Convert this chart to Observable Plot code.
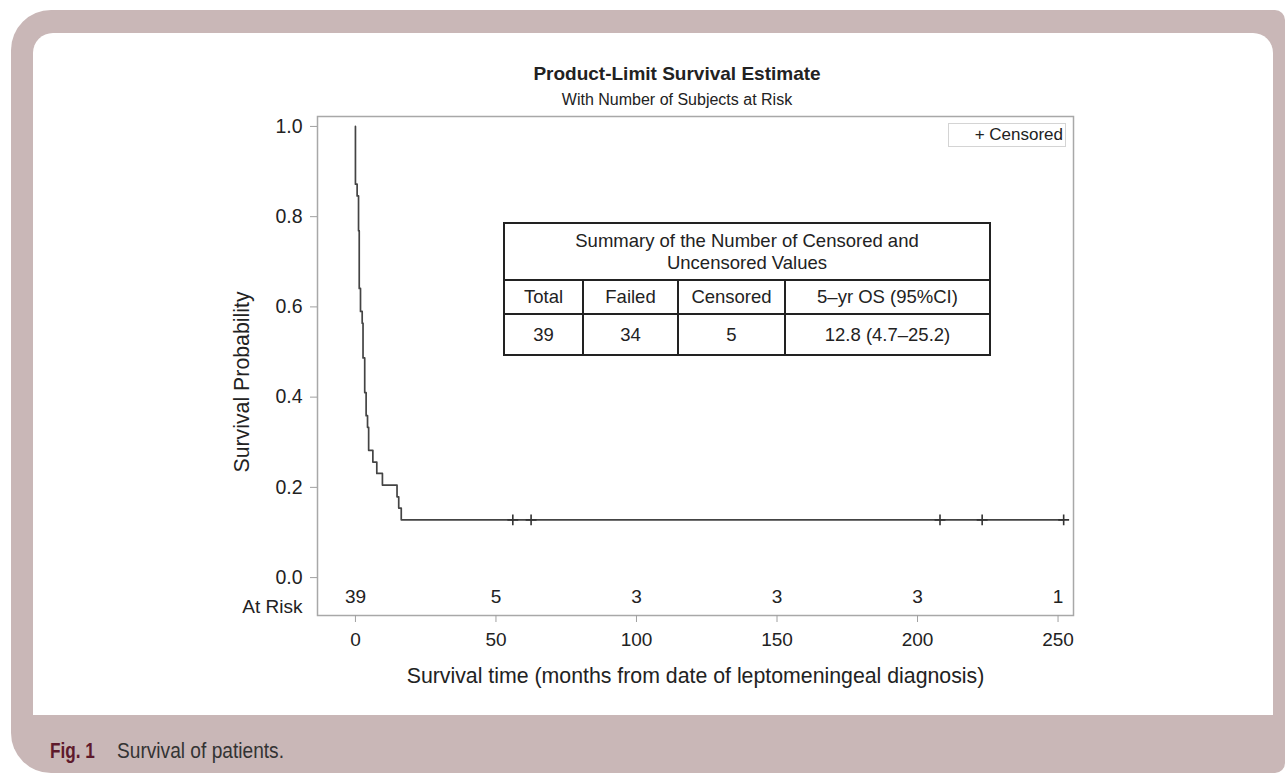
<!DOCTYPE html>
<html>
<head>
<meta charset="utf-8">
<script src="https://cdn.jsdelivr.net/npm/d3@7"></script>
<script src="https://cdn.jsdelivr.net/npm/@observablehq/plot@0.6"></script>
<style>
  html, body { margin: 0; padding: 0; }
  body { width: 1285px; height: 773px; overflow: hidden; position: relative; background: #fff;
         font-family: "Liberation Sans", Arial, Helvetica, sans-serif; color: #222; }
  #outer { position: absolute; left: 11px; top: 10px; width: 1274px; height: 763px;
           background: #c9b7b7; border-radius: 40px 10px 10px 40px; }
  #inner { position: absolute; left: 33px; top: 33px; width: 1240px; height: 682px;
           background: #fff; border-radius: 20px 20px 0 0; }
  #chart { position: absolute; left: 0; top: 0; }
  .title { position: absolute; left: 427px; width: 500px; text-align: center; line-height: 1; white-space: nowrap; }
  #t1 { top: 64px; font-size: 19px; font-weight: bold; }
  #t2 { top: 91.5px; font-size: 16px; }
  #legend { position: absolute; left: 948px; top: 123px; width: 114px; height: 22px;
            border: 1px solid #d4d4d4; font-size: 17px; line-height: 21px; text-align: right; padding-right: 2px; box-sizing: content-box; }
  #summary { position: absolute; left: 503px; top: 222px; width: 486px; height: 133px;
             border-collapse: collapse; table-layout: fixed; font-size: 18.5px; background: #fff; }
  #summary td, #summary th { border: 2px solid #222; text-align: center; font-weight: normal; padding: 0; line-height: 1.15; }
  .cap { position: absolute; top: 741px; font-family: "Liberation Sans", Arial, sans-serif;
         font-size: 21.5px; line-height: 1; white-space: nowrap; transform-origin: 0 0; }
  #capLabel { left: 50px; font-weight: bold; color: #5e1a2c; transform: scaleX(0.8); }
  #capText { left: 117px; color: #333; transform: scaleX(0.89); }
</style>
</head>
<body>
<div id="outer"></div>
<div id="inner"></div>
<div id="chart"></div>
<div class="title" id="t1"></div>
<div class="title" id="t2"></div>
<div id="legend"></div>
<table id="summary"></table>
<div class="cap" id="capLabel"></div>
<div class="cap" id="capText"></div>
<script>
// ---- data ----
const titleText = "Product-Limit Survival Estimate";
const subtitleText = "With Number of Subjects at Risk";
const xLabel = "Survival time (months from date of leptomeningeal diagnosis)";
const yLabel = "Survival Probability";
const xTicks = [0, 50, 100, 150, 200, 250];
const yTicks = [0.0, 0.2, 0.4, 0.6, 0.8, 1.0];

// Kaplan–Meier step curve (time in months, survival probability)
const stepTimes = [0, 0, 0.6, 1.1, 1.35, 1.8, 2.4, 2.7, 3.3, 3.8, 4.3, 4.7, 6.2, 7.6, 9.6, 14.8, 15.4, 16.3, 252];
const stepSurv  = [1.0, 0.872, 0.846, 0.769, 0.641, 0.590, 0.564, 0.487, 0.410, 0.359, 0.333, 0.282, 0.256, 0.231, 0.205, 0.179, 0.154, 0.128, 0.128];

// censored observations
const censorTimes = [56, 62.5, 208, 223, 252];
const censorSurv  = [0.128, 0.128, 0.128, 0.128, 0.128];

// number at risk
const riskTimes  = [0, 50, 100, 150, 200, 250];
const riskCounts = [39, 5, 3, 3, 3, 1];
const riskLabel = "At Risk";

// summary table
const tableTitle = ["Summary of the Number of Censored and", "Uncensored Values"];
const tableHeader = ["Total", "Failed", "Censored", "5\u2013yr OS (95%CI)"];
const tableValues = ["39", "34", "5", "12.8 (4.7\u201325.2)"];
const legendText = "+ Censored";
const captionLabel = "Fig. 1";
const captionText = "Survival of patients.";

// ---- build ----
const curve = stepTimes.map((t, i) => ({t, s: stepSurv[i]}));
const censored = censorTimes.map((t, i) => ({t, s: censorSurv[i]}));
const risk = riskTimes.map((t, i) => ({t, n: riskCounts[i]}));

const font = "'Liberation Sans', Arial, Helvetica, sans-serif";
const chart = Plot.plot({
  width: 1285,
  height: 773,
  marginLeft: 317,
  marginRight: 212,
  marginTop: 116,
  marginBottom: 158,
  style: {background: "transparent", fontFamily: font, color: "#222", overflow: "visible"},
  x: {domain: [-13.5, 255.5], nice: false},
  y: {domain: [-0.084, 1.022], nice: false},
  marks: [
    Plot.frame({stroke: "#a8a8a8", strokeWidth: 1.5}),
    Plot.axisX({ticks: xTicks, tickSize: 7, tickPadding: 10, fontSize: 19, stroke: "#a0a0a0", fill: "#222", label: null}),
    Plot.axisY({ticks: yTicks, tickFormat: d3.format(".1f"), tickSize: 7, tickPadding: 8, fontSize: 19.5, stroke: "#a0a0a0", fill: "#222", label: null}),
    Plot.line(curve, {x: "t", y: "s", curve: "step-after", stroke: "#444", strokeWidth: 1.7}),
    Plot.dot(censored, {x: "t", y: "s", symbol: "plus", r: 3.6, stroke: "#333", strokeWidth: 1.6, fill: "none"}),
    Plot.text(risk, {x: "t", text: "n", frameAnchor: "bottom", dy: -13, fontSize: 19, fill: "#222"}),
    Plot.text([riskLabel], {frameAnchor: "bottom-left", dx: -15, dy: -3, textAnchor: "end", fontSize: 19, fill: "#222"}),
    Plot.text([xLabel], {frameAnchor: "bottom", dy: 67, fontSize: 21.3, fill: "#222"}),
    Plot.text([yLabel], {frameAnchor: "left", textAnchor: "middle", rotate: -90, dx: -75, dy: 16, fontSize: 21.3, fill: "#222"})
  ]
});
document.getElementById("chart").appendChild(chart);

document.getElementById("t1").textContent = titleText;
document.getElementById("t2").textContent = subtitleText;
document.getElementById("legend").textContent = legendText;

const table = document.getElementById("summary");
const colWidths = [79, 95, 107, 205];
const cg = document.createElement("colgroup");
colWidths.forEach(w => { const c = document.createElement("col"); c.style.width = w + "px"; cg.appendChild(c); });
table.appendChild(cg);
const r0 = table.insertRow(); r0.style.height = "57px";
const th = document.createElement("th"); th.colSpan = 4; th.innerHTML = tableTitle.join("<br>"); r0.appendChild(th);
const r1 = table.insertRow(); r1.style.height = "34px";
tableHeader.forEach(h => { r1.insertCell().textContent = h; });
const r2 = table.insertRow(); r2.style.height = "41px";
tableValues.forEach(v => { r2.insertCell().textContent = v; });

document.getElementById("capLabel").textContent = captionLabel;
document.getElementById("capText").textContent = captionText;
</script>
</body>
</html>
